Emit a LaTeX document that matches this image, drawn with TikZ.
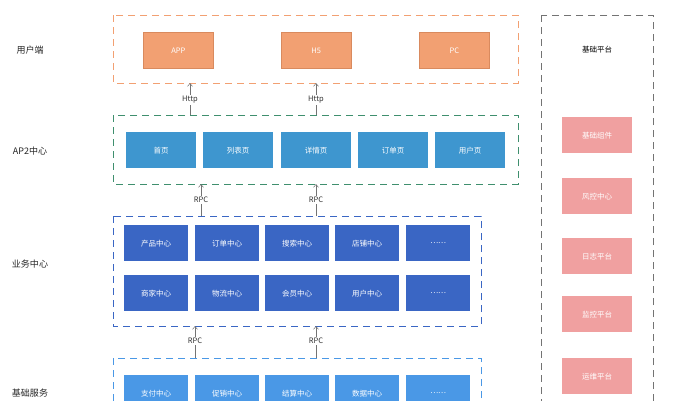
\documentclass[tikz,border=0pt]{standalone}
\usepackage{fontspec}
\setmainfont{Noto Sans CJK SC}
\usetikzlibrary{arrows.meta}
\definecolor{cOr}{HTML}{F2A072}
\definecolor{cOrB}{HTML}{D98A5E}
\definecolor{cAp}{HTML}{3E96CF}
\definecolor{cGr}{HTML}{3F8F6E}
\definecolor{cBz}{HTML}{3A66C4}
\definecolor{cJc}{HTML}{4A98E6}
\definecolor{cPk}{HTML}{F0A0A0}
\begin{document}
\begin{tikzpicture}[x=1pt,y=-1pt,
 frame/.style={draw,dash pattern=on 7pt off 5pt,line width=0.9pt},
 bx/.style={anchor=north west,inner sep=0,text=white,font=\fontsize{7.5}{8}\selectfont},
 lbl/.style={font=\fontsize{9}{10}\selectfont,text=black!85},
 arr/.style={draw=black!55,line width=0.5pt,-{Straight Barb[length=3pt,width=5pt]}},
 al/.style={font=\fontsize{7.5}{8}\selectfont,fill=white,inner sep=1pt,text=black!80}]
\useasboundingbox (0,0) rectangle (674,400);
\fill[white] (0,0) rectangle (674,400);
% frames
\draw[frame,cOr] (113,15) rectangle (518,83);
\draw[frame,cGr] (113,115) rectangle (518,184);
\draw[frame,cBz] (113,216) rectangle (481,326);
\draw[frame,cJc] (113,358) rectangle (481,410);
\draw[frame,black!55] (541,15) rectangle (653,410);
% labels
\node[lbl] (l1) at (30,50) {用户端};
\node[lbl] (l2) at (30,151) {AP2中心};
\node[lbl] (l3) at (30,264) {业务中心};
\node[lbl] (l4) at (30,393) {基础服务};
\node[font=\fontsize{7.5}{8}\selectfont] (jp) at (597,50) {基础平台};
% user
\foreach \n/\x/\t in {app/143/APP,h5/281/H5,pc/419/PC}
  \node[bx,fill=cOr,draw=cOrB,line width=0.6pt,minimum width=70pt,minimum height=36pt] (\n) at (\x,32) {\t};
% AP2
\foreach \n/\x/\t in {a1/126/首页,a2/203/列表页,a3/281/详情页,a4/358/订单页,a5/435/用户页}
  \node[bx,fill=cAp,minimum width=70pt,minimum height=36pt] (\n) at (\x,132) {\t};
% business
\foreach \n/\x/\t in {b1/124/产品中心,b2/195/订单中心,b3/265/搜索中心,b4/335/店铺中心,b5/406/……}
  \node[bx,fill=cBz,minimum width=64pt,minimum height=36pt] (\n) at (\x,225) {\t};
\foreach \n/\x/\t in {c1/124/商家中心,c2/195/物流中心,c3/265/会员中心,c4/335/用户中心,c5/406/……}
  \node[bx,fill=cBz,minimum width=64pt,minimum height=36pt] (\n) at (\x,275) {\t};
\foreach \n/\x/\t in {d1/124/支付中心,d2/195/促销中心,d3/265/结算中心,d4/335/数据中心,d5/406/……}
  \node[bx,fill=cJc,minimum width=64pt,minimum height=36pt] (\n) at (\x,375) {\t};
% platform
\foreach \n/\y/\t in {p1/117/基础组件,p2/178/风控中心,p3/238/日志平台,p4/296/监控平台,p5/358/运维平台}
  \node[bx,fill=cPk,minimum width=70pt,minimum height=36pt] (\n) at (562,\y) {\t};
% arrows
\coordinate (h1s) at (190,115); \coordinate (h1e) at (190,83);
\coordinate (h2s) at (316,115); \coordinate (h2e) at (316,83);
\draw[arr] (h1s) -- (h1e); \draw[arr] (h2s) -- (h2e);
\node[al] (ht1) at (190,100) {Http}; \node[al] (ht2) at (316,100) {Http};
\coordinate (r1s) at (201,216); \coordinate (r1e) at (201,184);
\coordinate (r2s) at (316,216); \coordinate (r2e) at (316,184);
\draw[arr] (r1s) -- (r1e); \draw[arr] (r2s) -- (r2e);
\node[al] (rt1) at (201,200) {RPC}; \node[al] (rt2) at (316,200) {RPC};
\coordinate (r3s) at (195,358); \coordinate (r3e) at (195,326);
\coordinate (r4s) at (316,358); \coordinate (r4e) at (316,326);
\draw[arr] (r3s) -- (r3e); \draw[arr] (r4s) -- (r4e);
\node[al] (rt3) at (195,341) {RPC}; \node[al] (rt4) at (316,341) {RPC};
\end{tikzpicture}
\end{document}
